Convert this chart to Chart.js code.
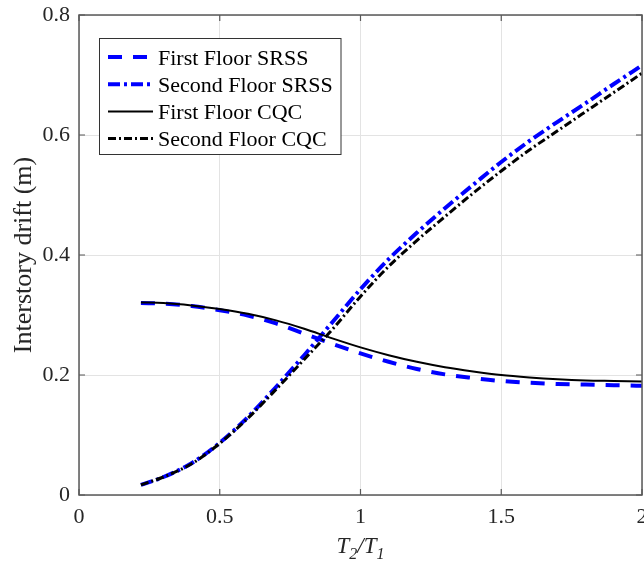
<!DOCTYPE html>
<html>
<head>
<meta charset="utf-8">
<script src="https://cdn.jsdelivr.net/npm/chart.js@4.4.0/dist/chart.umd.min.js"></script>
<style>
  html, body { margin: 0; padding: 0; background: #ffffff; }
  #wrap { width: 644px; height: 567px; position: relative; }
</style>
</head>
<body>
<div id="wrap"><canvas id="c" width="644" height="567"></canvas></div>
<script>
// ---- data ----
const periodRatio = [0.22, 0.3, 0.4, 0.5, 0.6, 0.7, 0.8, 0.9, 1.0, 1.1, 1.2, 1.3, 1.4, 1.5, 1.6, 1.7, 1.8, 1.9, 2.0];
const firstFloorSRSS  = [0.320, 0.319, 0.315, 0.308, 0.299, 0.286, 0.269, 0.252, 0.236, 0.222, 0.210, 0.201, 0.195, 0.190, 0.187, 0.185, 0.184, 0.183, 0.182];
const secondFloorSRSS = [0.017, 0.030, 0.053, 0.087, 0.130, 0.180, 0.233, 0.288, 0.343, 0.393, 0.437, 0.478, 0.517, 0.555, 0.590, 0.622, 0.653, 0.685, 0.716];
const firstFloorCQC   = [0.321, 0.320, 0.316, 0.310, 0.302, 0.291, 0.277, 0.261, 0.246, 0.233, 0.222, 0.213, 0.206, 0.200, 0.196, 0.193, 0.191, 0.190, 0.189];
const secondFloorCQC  = [0.017, 0.030, 0.052, 0.086, 0.128, 0.176, 0.226, 0.276, 0.331, 0.381, 0.424, 0.464, 0.503, 0.540, 0.575, 0.607, 0.639, 0.671, 0.703];
const seriesLabels = ['First Floor SRSS', 'Second Floor SRSS', 'First Floor CQC', 'Second Floor CQC'];
const xTickValues = [0, 0.5, 1, 1.5, 2];
const yTickValues = [0, 0.2, 0.4, 0.6, 0.8];
const yAxisTitle = 'Interstory drift (m)';

const SERIF = '"Liberation Serif", "Times New Roman", serif';
const toPts = (ys) => periodRatio.map((x, i) => ({ x: x, y: ys[i] }));

const datasets = [
  { label: seriesLabels[0], data: toPts(firstFloorSRSS),  borderColor: '#0000ff', borderWidth: 4,   borderDash: [14, 11], order: 4 },
  { label: seriesLabels[1], data: toPts(secondFloorSRSS), borderColor: '#0000ff', borderWidth: 4,   borderDash: [12, 4, 3, 4], order: 3 },
  { label: seriesLabels[2], data: toPts(firstFloorCQC),   borderColor: '#000000', borderWidth: 2,   borderDash: [], order: 2 },
  { label: seriesLabels[3], data: toPts(secondFloorCQC),  borderColor: '#000000', borderWidth: 3,   borderDash: [8, 3, 2, 3], order: 1 }
].map(d => Object.assign(d, { pointRadius: 0, fill: false, tension: 0.4, cubicInterpolationMode: 'monotone', borderCapStyle: 'butt' }));

// box + inward ticks
const boxPlugin = {
  id: 'box',
  afterDraw(chart) {
    const { ctx, chartArea: a, scales } = chart;
    ctx.save();
    ctx.strokeStyle = '#595959';
    ctx.lineWidth = 1.5;
    ctx.strokeRect(a.left, a.top, a.right - a.left, a.bottom - a.top);
    ctx.lineWidth = 1.2;
    const L = 6;
    ctx.beginPath();
    xTickValues.forEach(v => {
      const px = scales.x.getPixelForValue(v);
      ctx.moveTo(px, a.bottom); ctx.lineTo(px, a.bottom - L);
      ctx.moveTo(px, a.top); ctx.lineTo(px, a.top + L);
    });
    yTickValues.forEach(v => {
      const py = scales.y.getPixelForValue(v);
      ctx.moveTo(a.left, py); ctx.lineTo(a.left + L, py);
      ctx.moveTo(a.right, py); ctx.lineTo(a.right - L, py);
    });
    ctx.stroke();
    ctx.restore();
  }
};

// legend inside plot, drawn from the datasets
const legendPlugin = {
  id: 'innerLegend',
  afterDraw(chart) {
    const { ctx } = chart;
    const bx = 99.5, by = 38.5, bw = 241.5, bh = 116;
    ctx.save();
    ctx.fillStyle = '#ffffff';
    ctx.fillRect(bx, by, bw, bh);
    ctx.strokeStyle = '#333333';
    ctx.lineWidth = 1;
    ctx.strokeRect(bx, by, bw, bh);
    ctx.font = '22px ' + SERIF;
    ctx.textBaseline = 'alphabetic';
    ctx.textAlign = 'left';
    chart.data.datasets.forEach((ds, i) => {
      const base = 64.5 + i * 27.2;
      const ly = base - 7.5;
      ctx.beginPath();
      ctx.strokeStyle = ds.borderColor;
      ctx.lineWidth = ds.borderWidth;
      ctx.setLineDash(ds.borderDash || []);
      ctx.moveTo(108, ly); ctx.lineTo(153, ly);
      ctx.stroke();
      ctx.setLineDash([]);
      ctx.fillStyle = '#000000';
      ctx.fillText(ds.label, 158, base);
    });
    ctx.restore();
  }
};

// x axis title T2/T1 with subscripts
const xTitlePlugin = {
  id: 'xTitle',
  afterDraw(chart) {
    const { ctx, chartArea: a } = chart;
    const parts = [
      { t: 'T', size: 23, dy: 0 },
      { t: '2', size: 16, dy: 6 },
      { t: '/T', size: 23, dy: 0 },
      { t: '1', size: 16, dy: 6 }
    ];
    ctx.save();
    ctx.fillStyle = '#262626';
    ctx.textBaseline = 'alphabetic';
    ctx.textAlign = 'left';
    let total = 0;
    parts.forEach(p => { ctx.font = 'italic ' + p.size + 'px ' + SERIF; p.w = ctx.measureText(p.t).width; total += p.w; });
    let x = (a.left + a.right) / 2 - total / 2;
    const base = 553;
    parts.forEach(p => {
      ctx.font = 'italic ' + p.size + 'px ' + SERIF;
      ctx.fillText(p.t, x, base + p.dy);
      x += p.w;
    });
    ctx.restore();
  }
};

new Chart(document.getElementById('c'), {
  type: 'line',
  data: { datasets: datasets },
  plugins: [boxPlugin, legendPlugin, xTitlePlugin],
  options: {
    responsive: false,
    animation: false,
    devicePixelRatio: 1,
    layout: { padding: { top: 15, right: 2, left: 0, bottom: 0 } },
    plugins: { legend: { display: false }, tooltip: { enabled: false }, title: { display: false } },
    scales: {
      x: {
        type: 'linear', min: 0, max: 2,
        afterBuildTicks(scale) { scale.ticks = xTickValues.map(v => ({ value: v })); },
        ticks: { font: { family: SERIF, size: 22 }, color: '#262626', padding: 9, maxRotation: 0,
                 callback: (v) => String(v) },
        grid: { color: '#e3e3e3', lineWidth: 1, drawTicks: false },
        border: { display: false },
        afterFit(scale) { scale.height = 72; scale.paddingLeft = 0; scale.paddingRight = 0; }
      },
      y: {
        type: 'linear', min: 0, max: 0.8,
        afterBuildTicks(scale) { scale.ticks = yTickValues.map(v => ({ value: v })); },
        ticks: { font: { family: SERIF, size: 22 }, color: '#262626', padding: 9,
                 callback: (v) => String(Math.round(v * 10) / 10) },
        grid: { color: '#e3e3e3', lineWidth: 1, drawTicks: false },
        border: { display: false },
        title: { display: true, text: yAxisTitle, font: { family: SERIF, size: 26 }, color: '#262626', padding: { top: 9, bottom: 0 } },
        afterFit(scale) { scale.width = 79; scale.paddingTop = 0; scale.paddingBottom = 0; }
      }
    }
  }
});
</script>
</body>
</html>
